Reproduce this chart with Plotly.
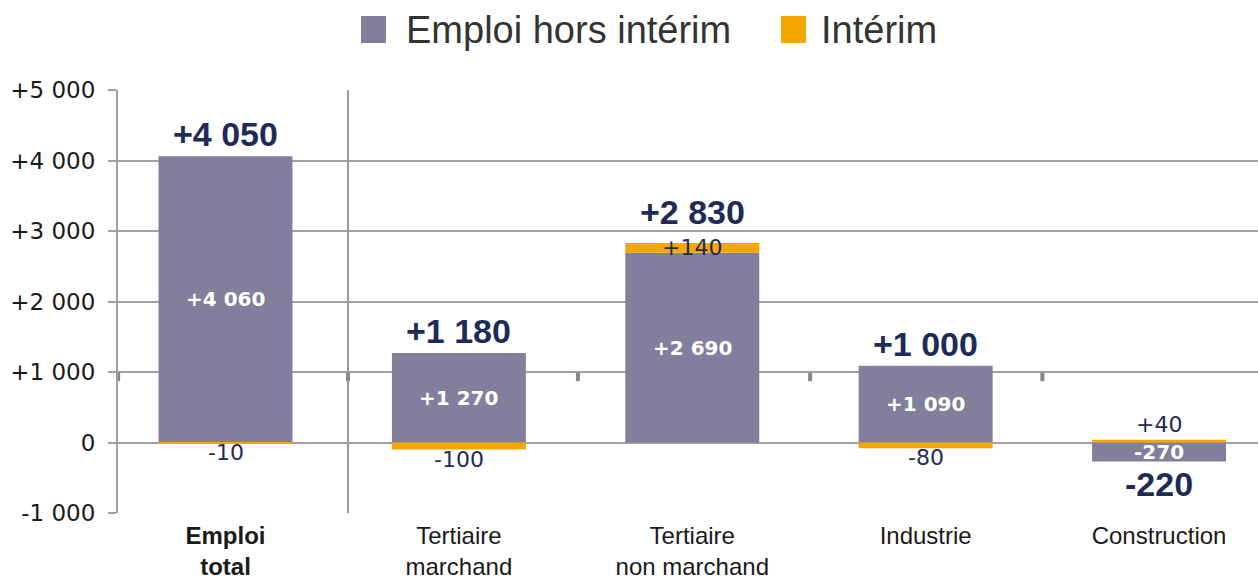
import plotly.graph_objects as go

categories = ["Emploi total", "Tertiaire marchand", "Tertiaire non marchand", "Industrie", "Construction"]
cat_labels = ["<b>Emploi<br>total</b>", "Tertiaire<br>marchand", "Tertiaire<br>non marchand", "Industrie", "Construction"]
hors_interim = [4060, 1270, 2690, 1090, -270]
interim = [-10, -100, 140, -80, 40]
totals = [4050, 1180, 2830, 1000, -220]
y_ticks = [-1000, 0, 1000, 2000, 3000, 4000, 5000]

GRAY = "#817f9c"
ORANGE = "#f5a700"
NAVY = "#1f2b57"
SANS = "Liberation Sans"
WIDE = "DejaVu Sans"


def fmt(v, sign=True):
    s = f"{abs(v):,}".replace(",", " ")
    if v > 0 and sign:
        return "+" + s
    if v < 0:
        return "-" + s
    return s


x = list(range(len(categories)))
BW = 0.574

fig = go.Figure()
fig.add_trace(go.Bar(x=x, y=hors_interim, marker=dict(color=GRAY, line=dict(width=0)),
                     width=BW, name="Emploi hors intérim", showlegend=False))
fig.add_trace(go.Bar(x=x, y=interim, marker=dict(color=ORANGE, line=dict(width=0)),
                     width=BW, name="Intérim", showlegend=False))

ann = []
shapes = []
for i in x:
    h, it, t = hors_interim[i], interim[i], totals[i]
    # inner label
    ann.append(dict(x=i, y=h / 2, text=f"<b>{fmt(h)}</b>", showarrow=False,
                    font=dict(family=WIDE, size=20, color="white")))
    # interim label
    extra = 0
    if it < 0:
        base = min(h, 0)
        ann.append(dict(x=i, y=base + it, text=fmt(it), showarrow=False, yanchor="top", yshift=5,
                        font=dict(family=WIDE, size=22, color=NAVY)))
    else:
        base = max(h, 0)
        if abs(it) >= 100:
            extra = 9
            ann.append(dict(x=i, y=base + it / 2, text=fmt(it), showarrow=False, yshift=0,
                            font=dict(family=WIDE, size=22, color=NAVY)))
        else:
            ann.append(dict(x=i, y=base + it, text=fmt(it), showarrow=False, yanchor="bottom", yshift=1,
                            font=dict(family=WIDE, size=22, color=NAVY)))
    # total label
    pos_top = sum(v for v in (h, it) if v > 0)
    neg_bot = sum(v for v in (h, it) if v < 0)
    if t >= 0:
        ann.append(dict(x=i, y=pos_top, text=f"<b>{fmt(t)}</b>", showarrow=False, yanchor="bottom",
                        yshift=1 + extra, font=dict(family=SANS, size=34, color=NAVY)))
    else:
        ann.append(dict(x=i, y=neg_bot, text=f"<b>{fmt(t)}</b>", showarrow=False, yanchor="top", yshift=-1,
                        font=dict(family=SANS, size=34, color=NAVY)))

# separator after total
shapes.append(dict(type="line", xref="x", yref="y", x0=0.525, x1=0.525, y0=-1000, y1=5060,
                   line=dict(color="#9a9a9a", width=2)))
# small stubs at category boundaries
for b in [-0.46, 0.525, 1.51, 2.505, 3.5]:
    shapes.append(dict(type="line", xref="x", yref="y", x0=b, x1=b, y0=870, y1=990,
                       line=dict(color="#888888", width=4)))

# manual legend
PW = 1140.0
PH = 423.0
def px(xp):
    return (xp - 118) / PW
def py(yp):
    return 1 + (90 - yp) / PH

shapes.append(dict(type="rect", xref="paper", yref="paper", x0=px(361), x1=px(386), y0=py(43), y1=py(16),
                   fillcolor=GRAY, line=dict(width=0)))
shapes.append(dict(type="rect", xref="paper", yref="paper", x0=px(781), x1=px(806), y0=py(43), y1=py(16),
                   fillcolor=ORANGE, line=dict(width=0)))
ann.append(dict(xref="paper", yref="paper", x=px(404), y=py(30), xanchor="left", yanchor="middle",
                text="Emploi hors intérim", showarrow=False, font=dict(family=SANS, size=38, color="#333333")))
ann.append(dict(xref="paper", yref="paper", x=px(819), y=py(30), xanchor="left", yanchor="middle",
                text="Intérim", showarrow=False, font=dict(family=SANS, size=38, color="#333333")))

fig.update_layout(
    barmode="relative",
    width=1258, height=584,
    margin=dict(l=118, r=0, t=90, b=71, autoexpand=False),
    paper_bgcolor="white", plot_bgcolor="white",
    showlegend=False,
    annotations=ann, shapes=shapes,
    font=dict(family=SANS, color="#1a1a1a"),
)
fig.update_xaxes(range=[-0.4606, 4.424], tickvals=x, ticktext=cat_labels, showgrid=False, zeroline=False,
                 tickfont=dict(family=SANS, size=24, color="#1a1a1a"), ticks="", showline=False,
                 ticklabelstandoff=6, automargin=False)
fig.update_yaxes(range=[-1000, 5000], tickvals=y_ticks, ticktext=[fmt(v) for v in y_ticks],
                 showgrid=True, gridcolor="#a0a0a0", gridwidth=2, zeroline=False,
                 showline=True, linecolor="#a0a0a0", linewidth=2, automargin=False,
                 ticks="outside", ticklen=8, tickcolor="#a0a0a0", tickwidth=2, ticklabelstandoff=8,
                 tickfont=dict(family=WIDE, size=23, color="#1a1a1a"))

fig.write_html("out.html", config={"displayModeBar": False},
               post_script="document.body.style.margin='0';document.body.style.overflow='hidden';")
